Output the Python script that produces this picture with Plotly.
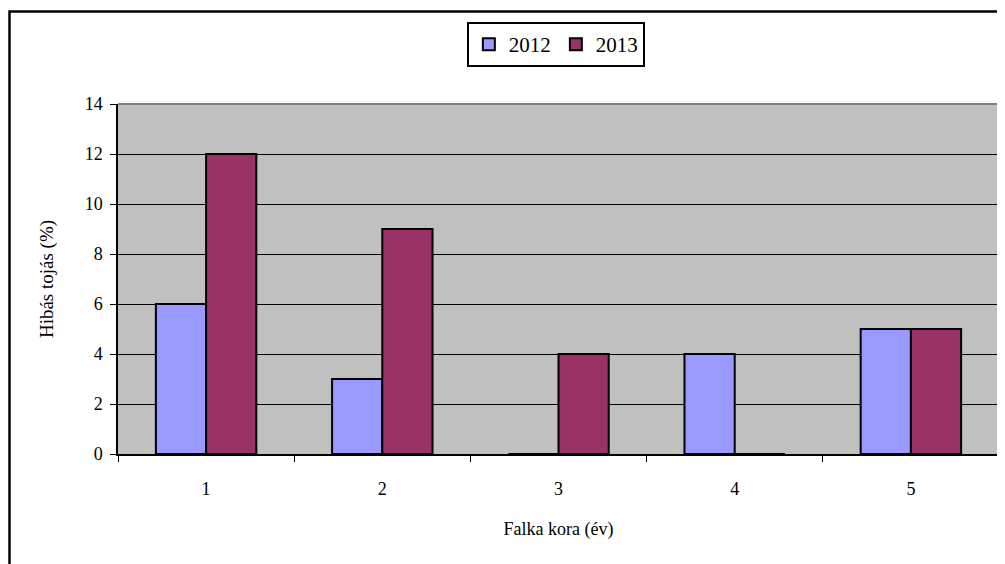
import plotly.graph_objects as go

categories = ["1", "2", "3", "4", "5"]
values_2012 = [6, 3, 0, 4, 5]
values_2013 = [12, 9, 4, 0, 5]
series_names = ["2012", "2013"]
y_ticks = [0, 2, 4, 6, 8, 10, 12, 14]

# page body has an 8px margin, so the figure is sized to fit the window
W, H = 997, 556
L, R, T, B = 110, 6, 96, 110
pw, ph = W - L - R, H - T - B

font = "'Liberation Serif', 'Times New Roman', serif"

fig = go.Figure()
fig.add_trace(go.Bar(x=categories, y=values_2012, name=series_names[0],
                     marker=dict(color="#9999FF", line=dict(color="black", width=2))))
fig.add_trace(go.Bar(x=categories, y=values_2013, name=series_names[1],
                     marker=dict(color="#993366", line=dict(color="black", width=2))))

fig.update_layout(
    width=W, height=H,
    margin=dict(l=L, r=R, t=T, b=B),
    paper_bgcolor="white",
    plot_bgcolor="#C0C0C0",
    font=dict(family=font, size=18, color="black"),
    barmode="group",
    bargap=0.43,
    bargroupgap=0,
    showlegend=True,
    legend=dict(orientation="h", x=0.497, y=1.234, xanchor="center", yanchor="top",
                bordercolor="black", borderwidth=2, bgcolor="white",
                font=dict(family=font, size=21), itemwidth=30,
                traceorder="normal"),
    xaxis=dict(
        showline=True, linecolor="black", linewidth=1.5,
        ticks="outside", ticklen=6, tickcolor="black", tickson="boundaries",
        showgrid=False, tickfont=dict(family=font, size=18),
        ticklabelstandoff=18,
        title=dict(text="Falka kora (év)", font=dict(family=font, size=18), standoff=24),
    ),
    yaxis=dict(
        range=[0, 14], tickvals=y_ticks,
        showline=True, linecolor="black", linewidth=1.5,
        ticks="outside", ticklen=6, tickcolor="black",
        showgrid=True, gridcolor="black", gridwidth=1.2,
        zeroline=False, tickfont=dict(family=font, size=18),
        ticklabelstandoff=4,
        title=dict(text="Hibás tojás (%)", font=dict(family=font, size=19), standoff=26),
    ),
    shapes=[
        dict(type="line", xref="paper", yref="paper", x0=0, x1=1, y0=1, y1=1,
             line=dict(color="#808080", width=2), layer="above"),
        dict(type="line", xref="paper", yref="paper", x0=1, x1=1, y0=0, y1=1,
             line=dict(color="#808080", width=2), layer="above"),
        dict(type="rect", xref="paper", yref="paper",
             x0=(1.5 - L) / pw, x1=1.2, y0=-0.5, y1=1 + (T - 3.5) / ph,
             line=dict(color="black", width=2.5), layer="above"),
    ],
)

fig.write_html("out.html")
